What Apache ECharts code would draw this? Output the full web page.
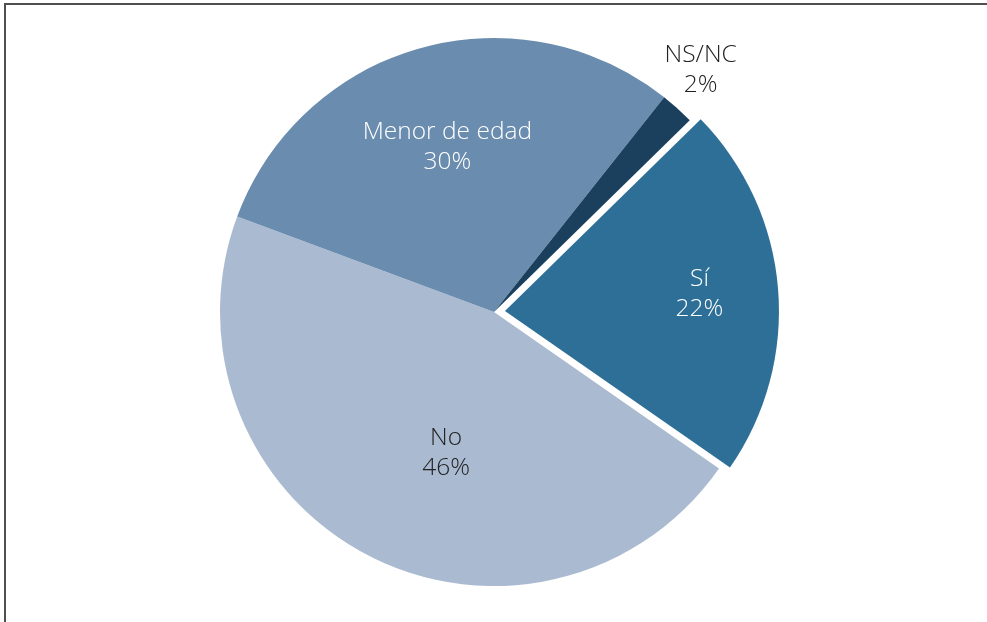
<!DOCTYPE html>
<html>
<head>
<meta charset="utf-8">
<script src="https://cdn.jsdelivr.net/npm/echarts@6/dist/echarts.min.js"></script>
<style>
  html, body { margin: 0; padding: 0; background: #fff; overflow: hidden; }
  #chart { position: absolute; left: 0; top: 0; width: 987px; height: 622px; }
  #frame { position: absolute; left: 4px; top: 3px; width: 1100px; height: 800px;
           border-left: 2px solid #4f4f4f; border-top: 2px solid #4f4f4f; pointer-events: none; }
</style>
</head>
<body>
<div id="chart"></div>
<div id="frame"></div>
<script>
const categories = ['Sí', 'No', 'Menor de edad', 'NS/NC'];
const values = [22, 46, 30, 2];
const sliceColors = ['#2e6f97', '#aabbd1', '#6a8daf', '#1b405d'];
const labelColors = ['#ffffff', '#222222', '#ffffff', '#222222'];
const labelShift = [[55, -5], [17, 17], [-9, -30], [113, -138]];

const chart = echarts.init(document.getElementById('chart'));
chart.setOption({
  animation: false,
  series: [{
    type: 'pie',
    center: [494, 312],
    radius: 274,
    startAngle: 44.4,
    clockwise: true,
    selectedMode: 'single',
    selectedOffset: 11,
    avoidLabelOverlap: false,
    emphasis: { disabled: true },
    itemStyle: { borderWidth: 0 },
    label: {
      show: true,
      position: 'inside',
      formatter: p => p.name + '\n' + p.value + '%',
      fontFamily: 'Open Sans',
      fontWeight: 300,
      fontSize: 24.5,
      lineHeight: 30,
      align: 'center'
    },
    labelLine: { show: false },
    labelLayout: p => ({ dx: labelShift[p.dataIndex][0], dy: labelShift[p.dataIndex][1] }),
    data: categories.map((c, i) => ({
      name: c,
      value: values[i],
      selected: i === 0,
      itemStyle: { color: sliceColors[i] },
      label: { color: labelColors[i] }
    }))
  }]
});
</script>
</body>
</html>
